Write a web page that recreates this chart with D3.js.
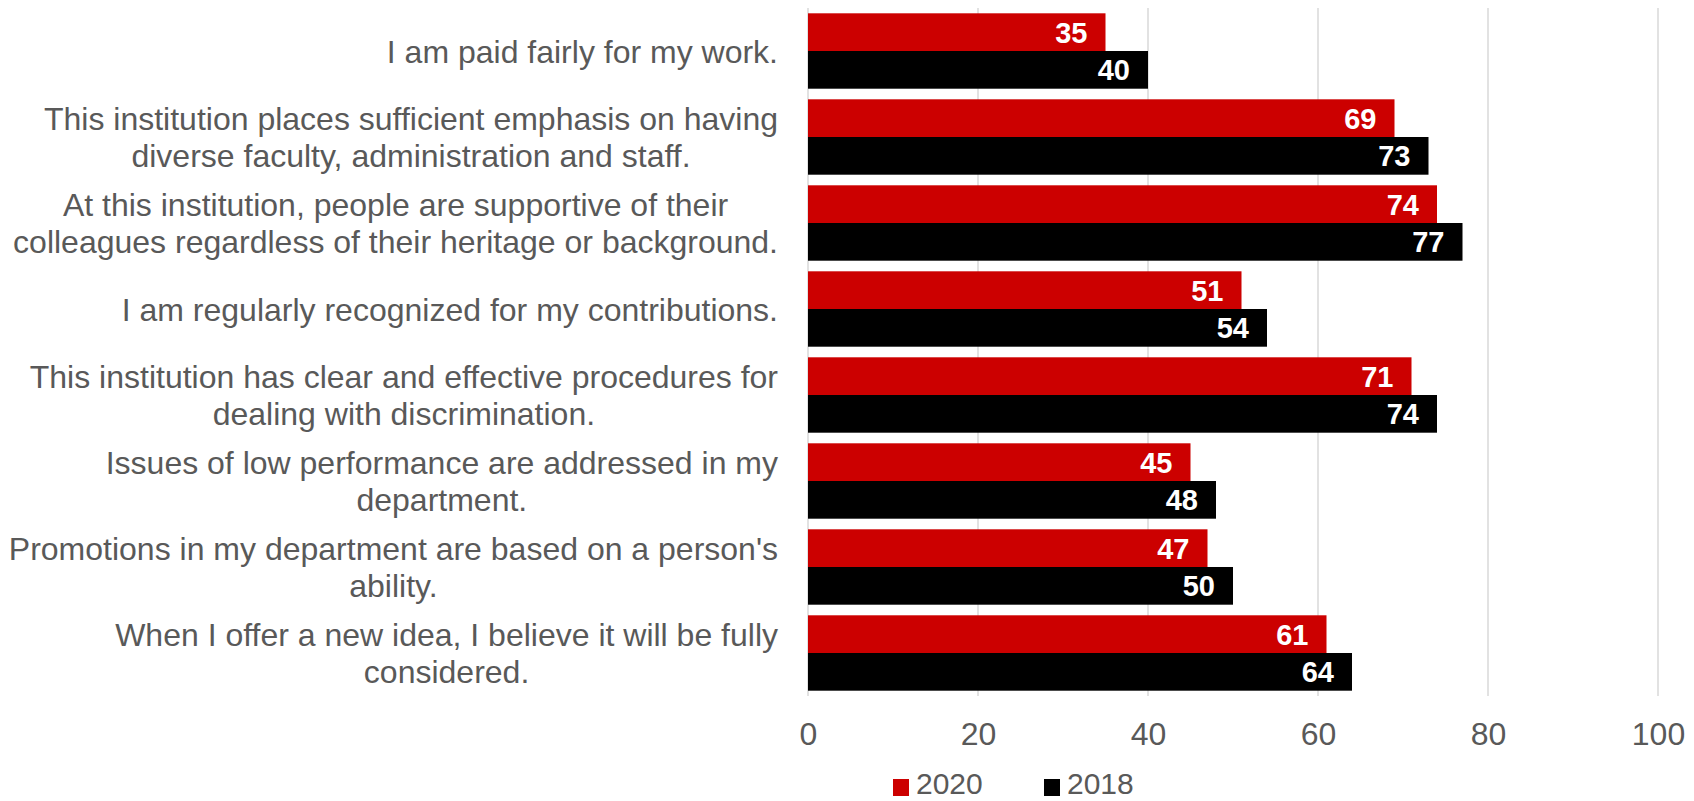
<!DOCTYPE html>
<html><head><meta charset="utf-8">
<script src="https://cdn.jsdelivr.net/npm/d3@7"></script>
<style>body{margin:0;background:#fff}svg{display:block}</style></head>
<body>
<svg id="c" width="1694" height="801"></svg>
<script>
const categories = [
  "I am paid fairly for my work.",
  "This institution places sufficient emphasis on having\ndiverse faculty, administration and staff.",
  "At this institution, people are supportive of their\ncolleagues regardless of their heritage or background.",
  "I am regularly recognized for my contributions.",
  "This institution has clear and effective procedures for\ndealing with discrimination.",
  "Issues of low performance are addressed in my\ndepartment.",
  "Promotions in my department are based on a person's\nability.",
  "When I offer a new idea, I believe it will be fully\nconsidered."
];
const values2020 = [35, 69, 74, 51, 71, 45, 47, 61];
const values2018 = [40, 73, 77, 54, 74, 48, 50, 64];
const seriesNames = ["2020", "2018"];
const seriesColors = ["#cc0000", "#000000"];
const xTicks = [0, 20, 40, 60, 80, 100];

const svg = d3.select("#c");
const font = "'Liberation Sans', Arial, sans-serif";
const x = d3.scaleLinear().domain([0, 100]).range([808, 1658]);
const y = d3.scaleBand().domain(categories).range([8, 696]).paddingInner(0.1233).paddingOuter(0.0617);
const ySub = d3.scaleBand().domain(seriesNames).range([0, y.bandwidth()]);

// gridlines
svg.append("g").selectAll("line").data(xTicks).join("line")
  .attr("x1", d => x(d)).attr("x2", d => x(d))
  .attr("y1", 8).attr("y2", 696)
  .attr("stroke", "#d9d9d9").attr("stroke-width", 1.5);

// x axis labels
const ax = svg.append("g").attr("transform", "translate(0,733)")
  .call(d3.axisBottom(x).tickValues(xTicks).tickSize(0).tickPadding(0));
ax.select(".domain").remove();
ax.selectAll("text").attr("font-family", font).attr("font-size", 32).attr("fill", "#595959")
  .attr("dy", "0.36em").attr("y", 0);

const series = [values2020, values2018];
series.forEach((vals, si) => {
  const g = svg.append("g");
  g.selectAll("rect").data(vals).join("rect")
    .attr("x", x(0))
    .attr("y", (d, i) => y(categories[i]) + ySub(seriesNames[si]))
    .attr("width", d => x(d) - x(0))
    .attr("height", ySub.bandwidth())
    .attr("fill", seriesColors[si]);
  g.selectAll("text").data(vals).join("text")
    .attr("x", d => x(d) - 18)
    .attr("y", (d, i) => y(categories[i]) + ySub(seriesNames[si]) + ySub.bandwidth() / 2)
    .attr("dy", "0.36em")
    .attr("text-anchor", "end")
    .attr("font-family", font).attr("font-size", 29).attr("font-weight", "bold")
    .attr("fill", "#fff")
    .text(d => d);
});

// category labels: block right-aligned, lines centred within block
const lh = 37;
const rightEdge = 778;
const cl = svg.append("g");
categories.forEach(c => {
  const lines = c.split("\n");
  const cy = y(c) + y.bandwidth() / 2;
  const t = cl.append("text").attr("text-anchor", "middle")
    .attr("font-family", font).attr("font-size", 32).attr("fill", "#595959");
  const spans = lines.map((ln, k) => t.append("tspan")
      .attr("y", cy + (k - (lines.length - 1) / 2) * lh)
      .attr("dy", "0.36em").text(ln));
  const maxW = d3.max(spans, s => s.node().getComputedTextLength());
  spans.forEach(s => s.attr("x", rightEdge - maxW / 2));
});

// legend
const legX = [893, 1044];
const lg = svg.append("g");
seriesNames.forEach((s, i) => {
  lg.append("rect").attr("x", legX[i]).attr("y", 779).attr("width", 16).attr("height", 17).attr("fill", seriesColors[i]);
  lg.append("text").attr("x", legX[i] + 23).attr("y", 794)
    .attr("font-family", font).attr("font-size", 30).attr("fill", "#595959").text(s);
});
</script>
</body></html>
